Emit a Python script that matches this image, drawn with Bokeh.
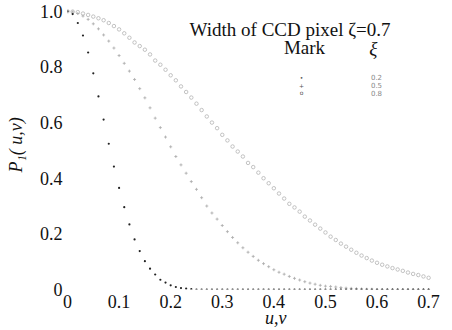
from bokeh.plotting import figure
from bokeh.models import Range1d, FixedTicker, Label
from bokeh.embed import file_html
from bokeh.resources import INLINE

u = [0.00, 0.01, 0.02, 0.03, 0.04, 0.05, 0.06, 0.07, 0.08, 0.09,
     0.10, 0.11, 0.12, 0.13, 0.14, 0.15, 0.16, 0.17, 0.18, 0.19,
     0.20, 0.21, 0.22, 0.23, 0.24, 0.25, 0.26, 0.27, 0.28, 0.29,
     0.30, 0.31, 0.32, 0.33, 0.34, 0.35, 0.36, 0.37, 0.38, 0.39,
     0.40, 0.41, 0.42, 0.43, 0.44, 0.45, 0.46, 0.47, 0.48, 0.49,
     0.50, 0.51, 0.52, 0.53, 0.54, 0.55, 0.56, 0.57, 0.58, 0.59,
     0.60, 0.61, 0.62, 0.63, 0.64, 0.65, 0.66, 0.67, 0.68, 0.69, 0.70]

p_xi02 = [1.000, 0.990, 0.958, 0.913, 0.852, 0.777, 0.694, 0.611, 0.524, 0.442,
          0.365, 0.296, 0.234, 0.180, 0.138, 0.102, 0.075, 0.054, 0.035, 0.025,
          0.015, 0.009, 0.005, 0.003, 0.001, 0, 0, 0, 0, 0,
          0, 0, 0, 0, 0, 0, 0, 0, 0, 0,
          0, 0, 0, 0, 0, 0, 0, 0, 0, 0,
          0, 0, 0, 0, 0, 0, 0, 0, 0, 0,
          0, 0, 0, 0, 0, 0, 0, 0, 0, 0, 0]

p_xi05 = [1.000, 0.998, 0.992, 0.983, 0.971, 0.955, 0.937, 0.915, 0.893, 0.868,
          0.841, 0.813, 0.785, 0.755, 0.722, 0.689, 0.653, 0.616, 0.582, 0.548,
          0.513, 0.478, 0.448, 0.418, 0.388, 0.360, 0.330, 0.300, 0.275, 0.253,
          0.230, 0.208, 0.187, 0.168, 0.150, 0.134, 0.119, 0.105, 0.093, 0.082,
          0.071, 0.062, 0.055, 0.047, 0.040, 0.034, 0.028, 0.023, 0.019, 0.015,
          0.012, 0.011, 0.009, 0.007, 0.005, 0.004, 0.003, 0.002, 0.001, 0.001,
          0, 0, 0, 0, 0, 0, 0, 0, 0, 0, 0]

p_xi08 = [1.000, 0.999, 0.997, 0.992, 0.987, 0.981, 0.975, 0.968, 0.958, 0.947,
          0.935, 0.921, 0.905, 0.888, 0.875, 0.862, 0.845, 0.823, 0.808, 0.790,
          0.770, 0.752, 0.730, 0.710, 0.690, 0.668, 0.645, 0.622, 0.600, 0.580,
          0.556, 0.536, 0.514, 0.496, 0.478, 0.455, 0.440, 0.420, 0.400, 0.382,
          0.364, 0.345, 0.327, 0.308, 0.295, 0.280, 0.262, 0.248, 0.233, 0.219,
          0.205, 0.190, 0.178, 0.165, 0.154, 0.143, 0.132, 0.122, 0.113, 0.104,
          0.096, 0.089, 0.083, 0.077, 0.072, 0.067, 0.061, 0.056, 0.052, 0.047, 0.042]

x_ticks = [0, 0.1, 0.2, 0.3, 0.4, 0.5, 0.6, 0.7]
x_tick_labels = ["0", "0.1", "0.2", "0.3", "0.4", "0.5", "0.6", "0.7"]
y_ticks = [0, 0.2, 0.4, 0.6, 0.8, 1.0]
y_tick_labels = ["0", "0.2", "0.4", "0.6", "0.8", "1.0"]
legend_marks = ["\u2022", "+", "o"]
legend_values = ["0.2", "0.5", "0.8"]

SERIF = "Liberation Serif"

p = figure(width=452, height=330, output_backend="svg", toolbar_location=None,
           x_range=Range1d(0, 0.7463), y_range=Range1d(0, 1.0389),
           min_border_left=67, min_border_right=0, min_border_top=0,
           min_border_bottom=36)
p.outline_line_color = None
p.grid.visible = False
p.background_fill_color = "white"
p.border_fill_color = "white"

p.scatter(u, p_xi08, marker="circle", size=3.5, fill_color=None,
          line_color="#b4b4b4", line_width=0.8)
p.scatter(u, p_xi05, marker="cross", size=3, line_color="#aaaaaa", line_width=0.8)
p.scatter(u, p_xi02, marker="circle", size=2.2, fill_color="#222222",
          line_color=None)

for ax, ticks, labels in ((p.xaxis[0], x_ticks, x_tick_labels),
                          (p.yaxis[0], y_ticks, y_tick_labels)):
    ax.ticker = FixedTicker(ticks=ticks)
    ax.major_label_overrides = {t: l for t, l in zip(ticks, labels)}
    ax.axis_line_color = None
    ax.major_tick_line_color = None
    ax.minor_tick_line_color = None
    ax.major_tick_in = 0
    ax.major_tick_out = 0
    ax.major_label_text_font = SERIF
    ax.major_label_text_font_size = "18px"
    ax.major_label_text_color = "#111111"

p.xaxis.major_label_standoff = 5
p.xaxis.axis_label = "\u00a0" * 7 + "u,v"
p.xaxis.axis_label_text_font = SERIF
p.xaxis.axis_label_text_font_size = "18px"
p.xaxis.axis_label_text_font_style = "italic"
p.xaxis.axis_label_standoff = -3
p.xaxis.axis_label_text_color = "#111111"

p.yaxis.major_label_standoff = 5
p.yaxis.axis_label = "P\u2081( u,v)"
p.yaxis.axis_label_text_font = SERIF
p.yaxis.axis_label_text_font_size = "18px"
p.yaxis.axis_label_text_font_style = "italic"
p.yaxis.axis_label_standoff = 11
p.yaxis.axis_label_text_color = "#111111"

p.add_layout(Label(x=0.4314, y=0.933, text="Width of CCD pixel \u03b6=0.7",
                   text_font=SERIF, text_font_size="19px", text_align="center",
                   text_baseline="middle", text_color="#111111"))
p.add_layout(Label(x=0.4595, y=0.869, text="Mark", text_font=SERIF,
                   text_font_size="19px", text_align="center",
                   text_baseline="middle", text_color="#111111"))
p.add_layout(Label(x=0.593, y=0.866, text="\u03be", text_font=SERIF,
                   text_font_size="19px", text_font_style="italic",
                   text_align="center", text_baseline="middle",
                   text_color="#111111"))

rows_y = [0.763, 0.735, 0.707]
for m, v, yy in zip(legend_marks, legend_values, rows_y):
    p.add_layout(Label(x=0.4537, y=yy, text=m, text_font="DejaVu Sans",
                       text_font_size="6px", text_align="center",
                       text_baseline="middle", text_color="#555555"))
    p.add_layout(Label(x=0.599, y=yy, text=v, text_font="DejaVu Sans",
                       text_font_size="7px", text_align="center",
                       text_baseline="middle", text_color="#888888"))

open("out.html", "w").write(file_html(p, INLINE))
